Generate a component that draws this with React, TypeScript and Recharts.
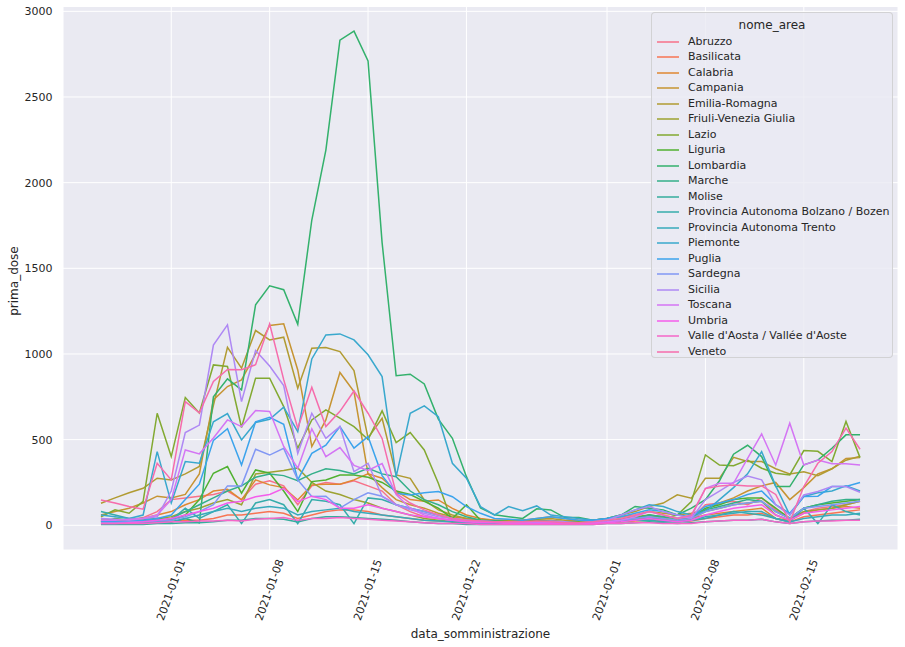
import { LineChart, Line, XAxis, YAxis, CartesianGrid } from 'recharts';

const FONT = '"DejaVu Sans", Verdana, sans-serif';
const TEXT = '#262626';

const regions = [
  'Abruzzo', 'Basilicata', 'Calabria', 'Campania', 'Emilia-Romagna', 'Friuli-Venezia Giulia',
  'Lazio', 'Liguria', 'Lombardia', 'Marche', 'Molise', 'Provincia Autonoma Bolzano / Bozen',
  'Provincia Autonoma Trento', 'Piemonte', 'Puglia', 'Sardegna', 'Sicilia', 'Toscana', 'Umbria',
  "Valle d'Aosta / Vallée d'Aoste", 'Veneto',
];

// first day of data, one value per day up to 2021-02-19
const startDate = '2020-12-27';
const tickDates = ['2021-01-01', '2021-01-08', '2021-01-15', '2021-01-22', '2021-02-01', '2021-02-08', '2021-02-15'];
const yTicks = [0, 500, 1000, 1500, 2000, 2500, 3000];

const abruzzo = [40, 30, 30, 45, 80, 150, 160, 170, 180, 200, 150, 240, 260, 230, 120, 230, 250, 240, 260, 230, 200, 120, 80, 50, 40, 30, 25, 20, 20, 15, 15, 15, 20, 15, 10, 15, 20, 30, 40, 50, 40, 30, 40, 120, 130, 140, 120, 160, 90, 40, 80, 100, 110, 120, 140];
const basilicata = [10, 10, 10, 15, 20, 20, 30, 30, 40, 60, 60, 70, 80, 70, 40, 60, 80, 90, 90, 80, 60, 50, 40, 30, 25, 20, 15, 15, 10, 10, 10, 10, 15, 10, 10, 10, 15, 20, 25, 30, 25, 20, 25, 40, 50, 60, 60, 70, 40, 20, 50, 60, 70, 80, 90];
const calabria = [30, 30, 30, 40, 60, 80, 120, 150, 200, 210, 148, 265, 236, 220, 148, 236, 240, 240, 265, 300, 275, 200, 150, 140, 148, 99, 60, 40, 30, 25, 20, 30, 30, 20, 20, 20, 25, 30, 40, 40, 30, 30, 40, 60, 70, 80, 90, 100, 40, 30, 70, 90, 100, 110, 100];
const campania = [60, 80, 100, 130, 170, 160, 180, 300, 732, 810, 849, 1000, 1166, 1176, 907, 460, 615, 892, 780, 300, 220, 150, 120, 100, 70, 50, 40, 30, 30, 30, 30, 40, 50, 40, 30, 30, 40, 50, 60, 80, 70, 60, 70, 90, 130, 160, 200, 230, 250, 150, 220, 300, 330, 390, 395];
const emiliaRomagna = [129, 160, 190, 216, 275, 265, 300, 343, 700, 1039, 917, 1137, 1082, 1098, 800, 1034, 1038, 1014, 903, 510, 625, 294, 274, 148, 90, 60, 40, 30, 25, 30, 30, 35, 40, 30, 25, 30, 40, 60, 80, 110, 130, 178, 158, 274, 274, 397, 372, 372, 330, 300, 313, 290, 330, 380, 403];
const friuli = [20, 20, 20, 30, 40, 50, 80, 100, 130, 150, 120, 300, 310, 320, 335, 250, 200, 180, 150, 130, 100, 80, 60, 40, 30, 20, 15, 15, 10, 10, 10, 10, 15, 10, 10, 10, 15, 20, 30, 40, 40, 30, 40, 80, 100, 120, 130, 140, 60, 30, 80, 90, 100, 120, 140];
const lazio = [50, 90, 70, 140, 654, 401, 746, 656, 936, 927, 571, 859, 859, 693, 450, 615, 674, 625, 576, 500, 668, 483, 541, 440, 245, 15, 20, 30, 25, 20, 20, 25, 20, 15, 20, 20, 25, 40, 50, 60, 40, 60, 138, 411, 352, 348, 381, 333, 304, 294, 436, 432, 372, 606, 395];
const liguria = [20, 40, 30, 30, 40, 30, 60, 150, 304, 343, 187, 323, 304, 200, 80, 255, 265, 294, 294, 280, 250, 200, 180, 140, 100, 40, 120, 30, 25, 20, 20, 30, 25, 20, 15, 15, 20, 30, 40, 60, 50, 40, 40, 100, 120, 150, 160, 160, 100, 40, 100, 120, 130, 140, 150];
const lombardia = [20, 15, 10, 25, 30, 20, 40, 15, 750, 855, 790, 1287, 1398, 1375, 1173, 1782, 2190, 2832, 2884, 2710, 1650, 873, 882, 825, 620, 508, 284, 101, 61, 50, 40, 96, 90, 45, 45, 30, 40, 60, 110, 100, 90, 60, 100, 150, 260, 415, 467, 401, 226, 226, 353, 380, 450, 528, 528];
const marche = [30, 25, 20, 25, 30, 40, 80, 120, 160, 200, 230, 280, 300, 290, 260, 300, 330, 320, 300, 333, 300, 284, 200, 150, 120, 80, 50, 30, 25, 20, 20, 20, 15, 15, 10, 15, 20, 25, 40, 60, 50, 40, 50, 90, 110, 130, 150, 140, 80, 40, 100, 120, 140, 150, 150];
const molise = [5, 5, 5, 5, 10, 10, 15, 15, 20, 30, 30, 40, 40, 35, 20, 40, 50, 50, 45, 40, 35, 30, 20, 15, 10, 10, 5, 5, 5, 5, 5, 5, 5, 5, 5, 5, 10, 10, 15, 20, 15, 10, 15, 20, 25, 30, 30, 35, 20, 10, 20, 25, 30, 30, 35];
const bolzano = [80, 60, 40, 40, 30, 30, 100, 40, 80, 120, 10, 130, 150, 120, 10, 150, 140, 120, 10, 160, 150, 120, 100, 80, 60, 40, 30, 20, 20, 15, 15, 10, 10, 10, 10, 10, 20, 30, 30, 30, 20, 20, 30, 40, 60, 80, 70, 60, 40, 20, 100, 10, 120, 80, 60];
const trento = [20, 20, 15, 15, 20, 20, 40, 60, 80, 100, 80, 100, 110, 100, 60, 80, 90, 100, 80, 70, 60, 50, 40, 30, 25, 20, 15, 10, 10, 10, 10, 10, 10, 10, 10, 10, 20, 30, 30, 40, 30, 20, 30, 50, 60, 70, 80, 80, 40, 20, 40, 50, 60, 60, 70];
const piemonte = [60, 50, 40, 60, 430, 130, 372, 362, 604, 652, 498, 600, 619, 690, 547, 971, 1111, 1117, 1082, 995, 868, 284, 654, 697, 634, 362, 275, 109, 60, 109, 85, 113, 60, 50, 40, 30, 40, 60, 90, 120, 110, 80, 60, 80, 150, 220, 300, 430, 230, 60, 168, 190, 200, 230, 200];
const puglia = [20, 20, 25, 30, 40, 60, 150, 240, 496, 564, 352, 604, 630, 590, 265, 420, 468, 576, 450, 518, 290, 187, 177, 190, 197, 167, 109, 70, 40, 35, 30, 40, 50, 40, 30, 30, 40, 50, 70, 90, 80, 60, 50, 110, 130, 150, 180, 200, 120, 70, 168, 170, 226, 226, 250];
const sardegna = [15, 15, 20, 20, 25, 30, 50, 80, 120, 230, 230, 444, 410, 449, 265, 168, 170, 100, 150, 190, 170, 120, 100, 80, 60, 40, 30, 20, 20, 20, 15, 15, 15, 10, 10, 15, 20, 30, 40, 50, 40, 30, 40, 80, 100, 120, 130, 140, 80, 40, 100, 110, 120, 130, 140];
const sicilia = [40, 35, 30, 40, 50, 200, 541, 585, 1052, 1170, 722, 1020, 930, 815, 420, 654, 508, 576, 313, 362, 168, 120, 90, 70, 50, 40, 30, 25, 20, 20, 20, 20, 25, 20, 15, 20, 30, 60, 90, 110, 80, 60, 40, 150, 200, 250, 288, 265, 120, 60, 177, 197, 226, 226, 193];
const toscana = [30, 30, 35, 40, 60, 150, 440, 417, 510, 615, 576, 670, 664, 460, 333, 563, 401, 454, 350, 320, 360, 180, 100, 60, 40, 30, 25, 20, 20, 15, 15, 20, 15, 15, 10, 15, 20, 30, 50, 80, 60, 40, 50, 216, 245, 245, 390, 533, 352, 596, 352, 381, 359, 359, 352];
const umbria = [10, 10, 15, 20, 30, 40, 60, 80, 100, 130, 140, 167, 180, 216, 138, 170, 150, 99, 100, 120, 100, 80, 60, 50, 40, 30, 20, 15, 15, 10, 10, 10, 10, 10, 10, 10, 15, 20, 30, 40, 30, 20, 30, 60, 80, 100, 110, 120, 60, 30, 70, 80, 90, 100, 110];
const valleDAosta = [10, 10, 10, 10, 15, 20, 20, 25, 25, 30, 25, 35, 40, 45, 30, 40, 40, 45, 40, 35, 30, 25, 20, 15, 10, 10, 10, 5, 5, 5, 5, 5, 5, 5, 5, 5, 10, 10, 15, 15, 10, 10, 10, 20, 25, 30, 30, 35, 20, 10, 20, 25, 25, 30, 30];
const veneto = [148, 130, 110, 94, 362, 265, 722, 656, 840, 910, 908, 937, 1176, 850, 567, 806, 576, 665, 784, 654, 507, 187, 130, 90, 60, 40, 30, 25, 20, 20, 20, 25, 20, 15, 15, 20, 30, 40, 60, 80, 60, 40, 60, 214, 230, 235, 230, 230, 180, 20, 226, 362, 430, 567, 444];

const series = [
  abruzzo, basilicata, calabria, campania, emiliaRomagna, friuli, lazio, liguria, lombardia, marche, molise,
  bolzano, trento, piemonte, puglia, sardegna, sicilia, toscana, umbria, valleDAosta, veneto,
];

// seaborn's husl palette (husl.py conversion)
const M = [
  [3.2406, -1.5372, -0.4986],
  [-0.9689, 1.8758, 0.0415],
  [0.0557, -0.204, 1.057],
];

function maxChroma(L: number, H: number) {
  const hrad = (H / 360) * 2 * Math.PI;
  const sinH = Math.sin(hrad);
  const cosH = Math.cos(hrad);
  const sub1 = Math.pow(L + 16, 3) / 1560896;
  const sub2 = sub1 > 0.008856 ? sub1 : L / 903.3;
  let result = Infinity;
  for (const [m1, m2, m3] of M) {
    const top = (0.99915 * m1 + 1.05122 * m2 + 1.1446 * m3) * sub2;
    const rbottom = 0.8633 * m3 - 0.17266 * m2;
    const lbottom = 0.12949 * m3 - 0.38848 * m1;
    const bottom = (rbottom * sinH + lbottom * cosH) * sub2;
    for (const t of [0, 1]) {
      const C = (L * (top - 1.05122 * t)) / (bottom + 0.17266 * sinH * t);
      if (C > 0 && C < result) result = C;
    }
  }
  return result;
}

function husl(h: number, s: number, l: number) {
  const C = (maxChroma(l, h) / 100) * s;
  const hrad = (h / 360) * 2 * Math.PI;
  const U = Math.cos(hrad) * C;
  const V = Math.sin(hrad) * C;
  const t = (l + 16) / 116;
  const Y = Math.pow(t, 3) > 0.008856 ? Math.pow(t, 3) : (116 * t - 16) / 903.3;
  const varU = U / (13 * l) + 0.19784;
  const varV = V / (13 * l) + 0.46834;
  const X = -(9 * Y * varU) / ((varU - 4) * varV - varU * varV);
  const Z = (9 * Y - 15 * varV * Y - varV * X) / (3 * varV);
  const rgb = M.map((r) => r[0] * X + r[1] * Y + r[2] * Z)
    .map((c) => (c <= 0.0031308 ? 12.92 * c : 1.055 * Math.pow(c, 1 / 2.4) - 0.055))
    .map((c) => Math.round(Math.min(1, Math.max(0, c)) * 255));
  return '#' + rgb.map((v) => v.toString(16).padStart(2, '0')).join('');
}

const colors = regions.map((_, i) => {
  const hue = (((i / regions.length) + 0.01) % 1) * 359;
  return husl(hue, 0.9 * 99, 0.65 * 99);
});

const DAY = 86400000;
const t0 = Date.parse(startDate);
const data = lombardia.map((_, i) => {
  const row: Record<string, number> = { t: t0 + i * DAY };
  regions.forEach((r, k) => {
    row[r] = series[k][i];
  });
  return row;
});

// matplotlib-style 5% margins
const tMin = data[0].t;
const tMax = data[data.length - 1].t;
const xPad = (tMax - tMin) * 0.05;
const yMax = Math.max(...series.flat());
const yPad = yMax * 0.05;

const fmtDate = (v: number) => new Date(v).toISOString().slice(0, 10);

function DateTick({ x, y, payload }: any) {
  return (
    <text
      transform={`translate(${x},${y + 40}) rotate(-70)`}
      textAnchor="middle"
      dominantBaseline="central"
      fontSize={11}
      fontFamily={FONT}
      fill={TEXT}
    >
      {fmtDate(payload.value)}
    </text>
  );
}

export default function App() {
  return (
    <div style={{ position: 'absolute', left: 0, top: 0, width: 905, height: 647, background: '#fff', fontFamily: FONT }}>
      <LineChart width={905} height={647} data={data} margin={{ top: 6.5, right: 7, bottom: 0, left: 0 }}>
        <CartesianGrid fill="#EAEAF2" stroke="#ffffff" strokeWidth={1} />
        <XAxis
          dataKey="t"
          type="number"
          domain={[tMin - xPad, tMax + xPad]}
          ticks={tickDates.map((d) => Date.parse(d))}
          tick={(p: any) => <DateTick {...p} />}
          height={97}
          tickLine={false}
          axisLine={false}
          tickSize={0}
          tickMargin={0}
          interval={0}
        />
        <YAxis
          type="number"
          domain={[-yPad, yMax + yPad]}
          ticks={yTicks}
          width={63}
          tickLine={false}
          axisLine={false}
          tickSize={0}
          tickMargin={10.5}
          tick={{ fontSize: 11, fill: TEXT, fontFamily: FONT }}
          interval={0}
        />
        {regions.map((r, i) => (
          <Line
            key={r}
            type="linear"
            dataKey={r}
            stroke={colors[i]}
            strokeWidth={1.5}
            dot={false}
            activeDot={false}
            isAnimationActive={false}
          />
        ))}
      </LineChart>

      <div style={{ position: 'absolute', left: 0, top: 634 - 8, width: 961, textAlign: 'center', fontSize: 12, lineHeight: '16px', color: TEXT }}>
        data_somministrazione
      </div>
      <div
        style={{
          position: 'absolute',
          left: 14 - 100,
          top: 281 - 8,
          width: 200,
          textAlign: 'center',
          fontSize: 12,
          lineHeight: '16px',
          color: TEXT,
          transform: 'rotate(-90deg)',
        }}
      >
        prima_dose
      </div>

      <div
        style={{
          position: 'absolute',
          left: 651,
          top: 12,
          width: 242,
          height: 346,
          boxSizing: 'border-box',
          background: 'rgba(234,234,242,0.8)',
          border: '1px solid rgba(204,204,204,0.8)',
          borderRadius: 4,
          color: TEXT,
        }}
      >
        <div style={{ position: 'absolute', left: 0, width: '100%', top: 4, textAlign: 'center', fontSize: 12, lineHeight: '16px' }}>
          nome_area
        </div>
        {regions.map((r, i) => (
          <div key={r} style={{ position: 'absolute', left: 0, top: 28.5 + 15.5 * i - 8, height: 16, width: '100%' }}>
            <svg width={30} height={16} style={{ position: 'absolute', left: 0, top: 0 }}>
              <line x1={5} x2={27} y1={8} y2={8} stroke={colors[i]} strokeWidth={1.5} />
            </svg>
            <span style={{ position: 'absolute', left: 36, top: 0, fontSize: 11, lineHeight: '16px', whiteSpace: 'nowrap' }}>{r}</span>
          </div>
        ))}
      </div>
    </div>
  );
}
